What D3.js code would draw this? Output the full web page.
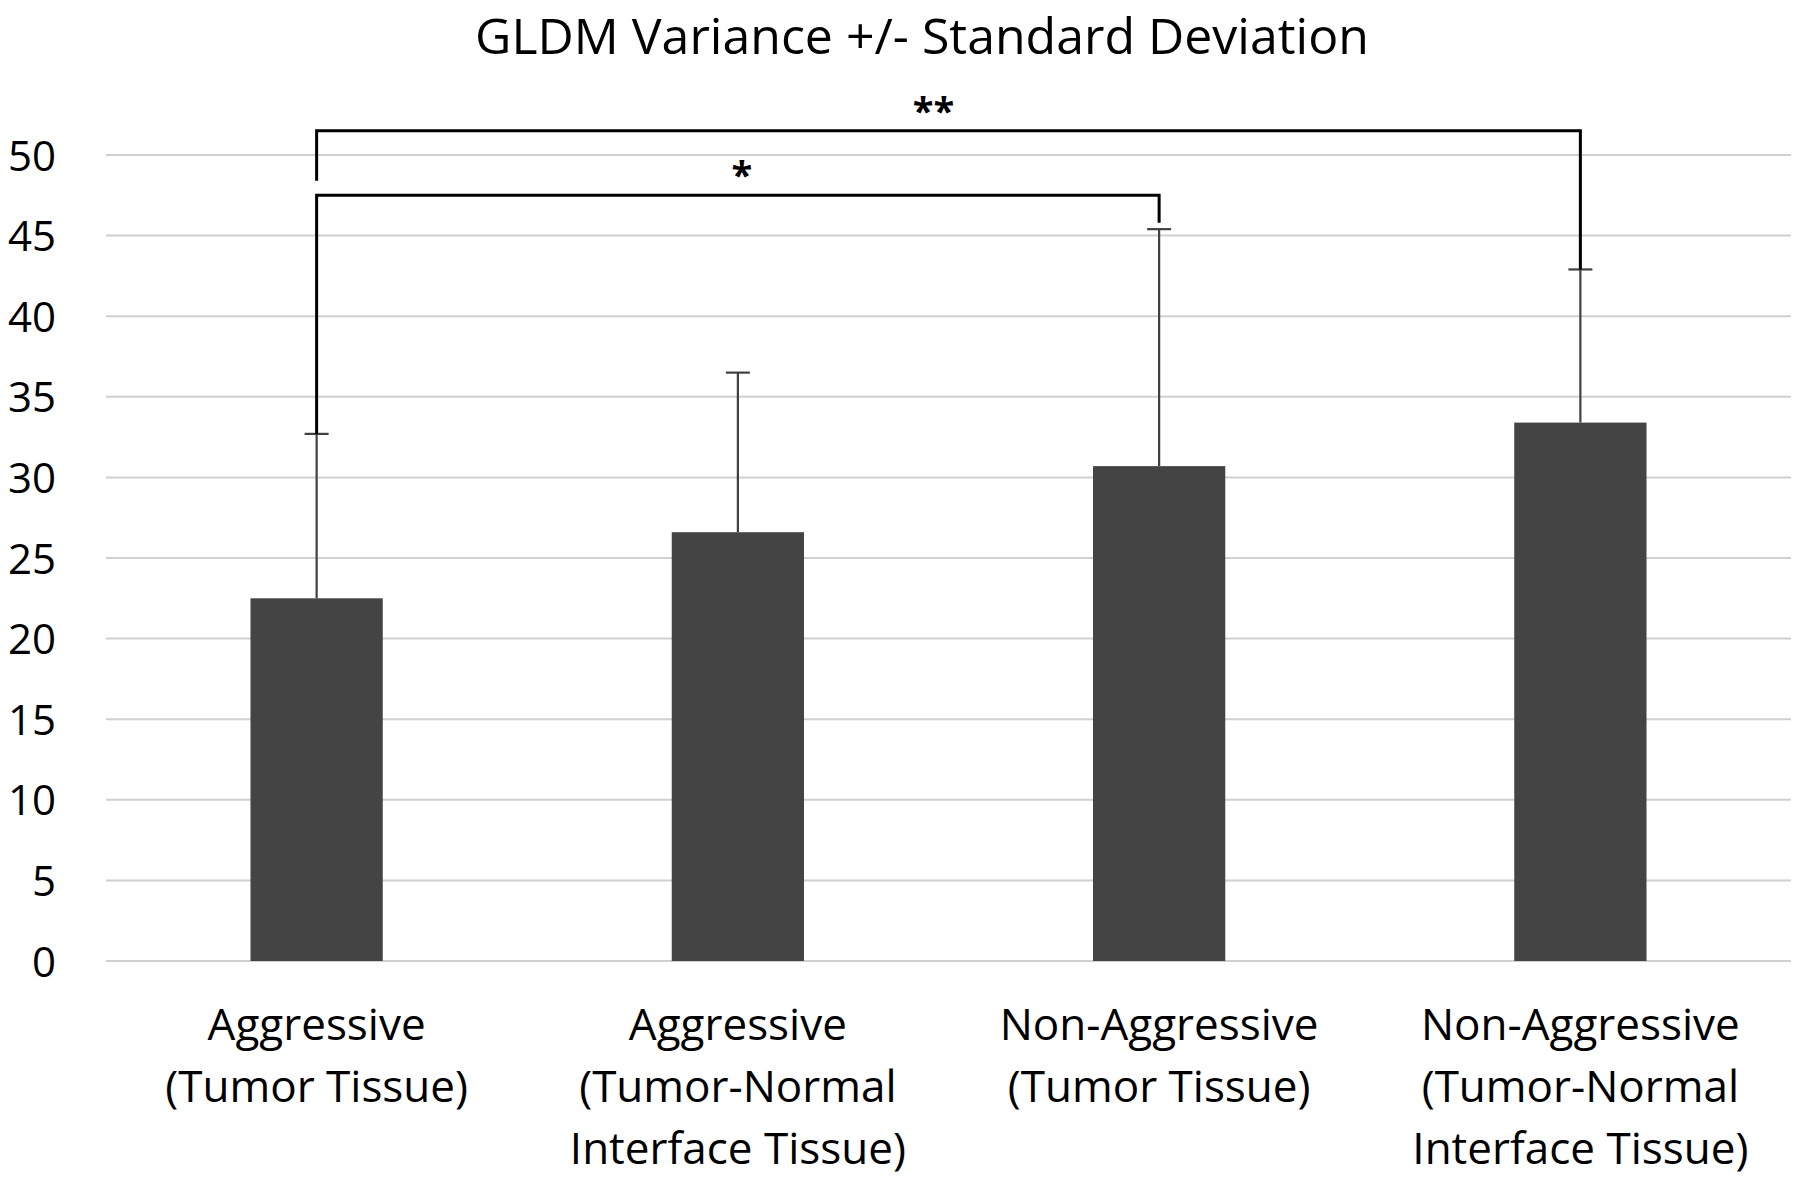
<!DOCTYPE html>
<html><head><meta charset="utf-8">
<script src="https://cdn.jsdelivr.net/npm/d3@7"></script>
<style>
html,body{margin:0;padding:0;background:#fff;}
svg{display:block;}
text{font-family:"Liberation Sans Narrow","Open Sans",sans-serif;fill:#000;}
</style></head>
<body>
<svg id="chart" width="1800" height="1185"></svg>
<script>
const categories = [
  ["Aggressive","(Tumor Tissue)"],
  ["Aggressive","(Tumor-Normal","Interface Tissue)"],
  ["Non-Aggressive","(Tumor Tissue)"],
  ["Non-Aggressive","(Tumor-Normal","Interface Tissue)"]
];
const means = [22.5, 26.6, 30.7, 33.4];
const sds = [10.2, 9.9, 14.7, 9.5];
const yTicks = [0,5,10,15,20,25,30,35,40,45,50];
const title = "GLDM Variance +/- Standard Deviation";
// significance brackets
const brackets = [
  {from:0, to:3, level:51.5, leftEnd:48.4, rightEnd:42.9, label:"**"},
  {from:0, to:2, level:47.5, leftEnd:32.7, rightEnd:45.8, label:"*"}
];

(function(){
const svg = d3.select("#chart");
const pL = 106, pR = 1791, pT = 155, pB = 961;
const x = d3.scaleBand().domain(d3.range(categories.length)).range([pL,pR])
  .paddingInner(0.686).paddingOuter(0.343);
const y = d3.scaleLinear().domain([0,50]).range([pB, pT]);

svg.append("text").attr("x", 922).attr("y", 54).attr("text-anchor","middle")
  .style("font-size","50px").text(title);

svg.append("g").selectAll("line").data(yTicks).join("line")
  .attr("x1", pL).attr("x2", pR)
  .attr("y1", d=>y(d)).attr("y2", d=>y(d))
  .attr("stroke","#d0d0d0").attr("stroke-width",2);

const yAxis = d3.axisLeft(y).tickValues(yTicks).tickSize(0).tickPadding(0);
const ga = svg.append("g").attr("transform",`translate(56,0)`).call(yAxis);
ga.select(".domain").remove();
ga.attr("font-family",null).attr("font-size",null);
ga.selectAll("text").style("font-size","42px").attr("fill","#000").attr("dy","0.36em");

svg.append("g").selectAll("rect").data(means).join("rect")
  .attr("x",(d,i)=>x(i)).attr("width",x.bandwidth())
  .attr("y",d=>y(d)).attr("height",d=>y(0)-y(d))
  .attr("fill","#444444");

const eg = svg.append("g").attr("stroke","#404040").attr("stroke-width",2.2);
means.forEach((m,i)=>{
  const cx = x(i)+x.bandwidth()/2;
  eg.append("line").attr("x1",cx).attr("x2",cx).attr("y1",y(m)).attr("y2",y(m+sds[i]));
  eg.append("line").attr("x1",cx-12).attr("x2",cx+12).attr("y1",y(m+sds[i])).attr("y2",y(m+sds[i]));
});

const bg = svg.append("g");
brackets.forEach(b=>{
  const x1 = x(b.from)+x.bandwidth()/2, x2 = x(b.to)+x.bandwidth()/2;
  const pts = [[x1,y(b.leftEnd)],[x1,y(b.level)],[x2,y(b.level)],[x2,y(b.rightEnd)]];
  bg.append("path").attr("d",d3.line()(pts)).attr("fill","none")
    .attr("stroke","#000").attr("stroke-width",3);
  bg.append("text").attr("x",(x1+x2)/2 - (b.label.length>1?15:-4)).attr("y",y(b.level)-6)
    .attr("text-anchor","middle").style("font-size","38px").style("font-weight","bold").text(b.label);
});

const cg = svg.append("g");
categories.forEach((lines,i)=>{
  const cx = x(i)+x.bandwidth()/2;
  const t = cg.append("text").attr("text-anchor","middle").style("font-size","44px");
  lines.forEach((ln,k)=>{
    t.append("tspan").attr("x",cx).attr("y",1040+k*62).text(ln);
  });
});
})();
</script>
</body></html>
